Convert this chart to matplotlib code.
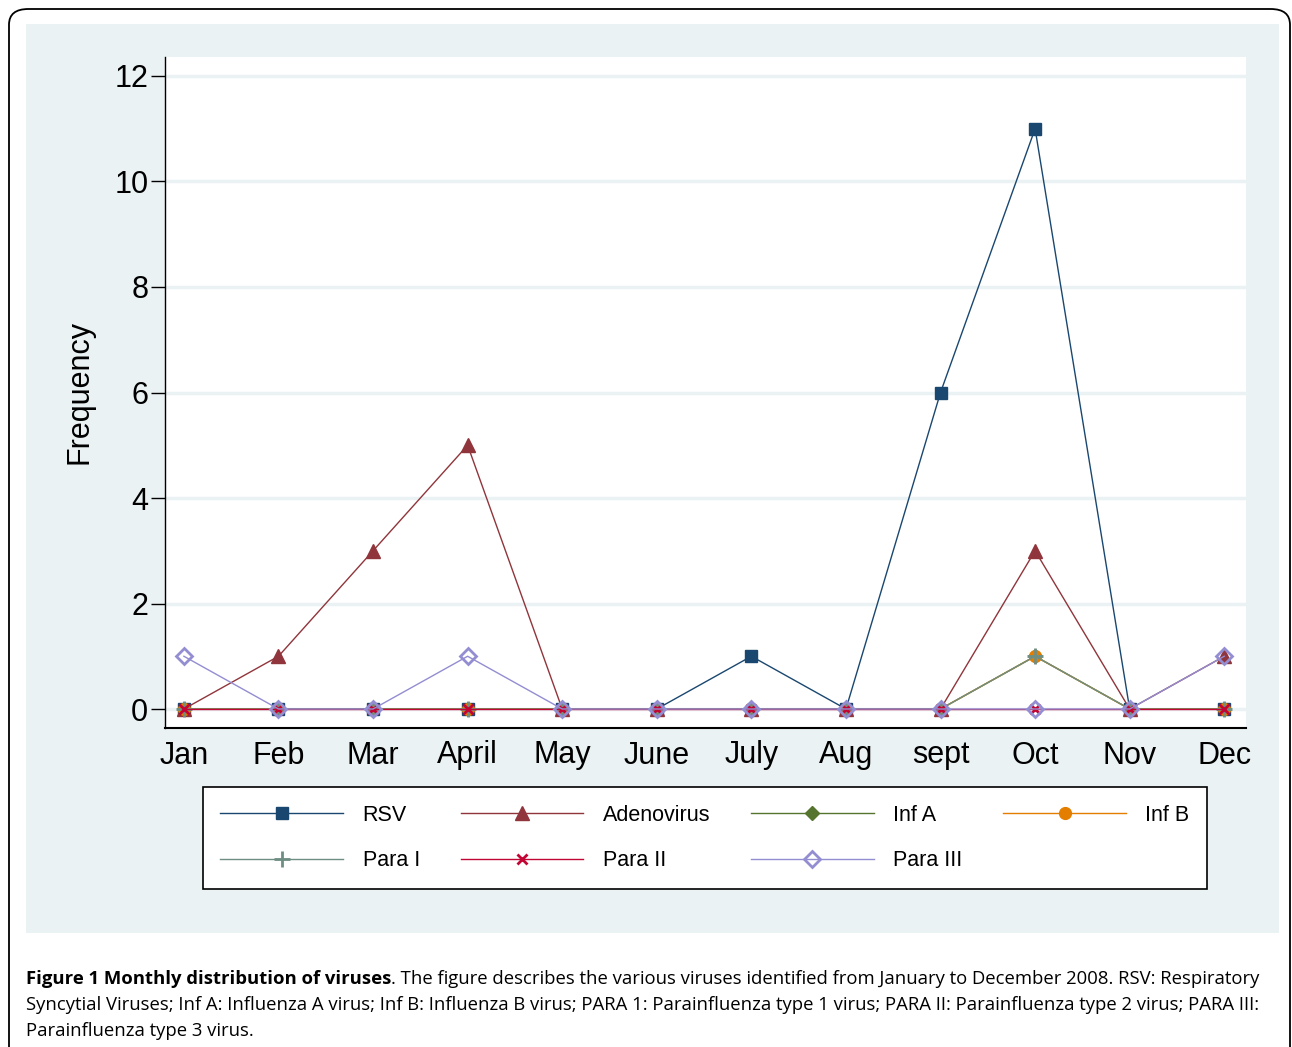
import matplotlib
matplotlib.use("Agg")
from matplotlib import pyplot as plt
from matplotlib.patches import FancyBboxPatch, Rectangle

months = ["Jan", "Feb", "Mar", "April", "May", "June", "July", "Aug", "sept", "Oct", "Nov", "Dec"]
rsv = [0, 0, 0, 0, 0, 0, 1, 0, 6, 11, 0, 0]
adenovirus = [0, 1, 3, 5, 0, 0, 0, 0, 0, 3, 0, 1]
inf_a = [0, 0, 0, 0, 0, 0, 0, 0, 0, 1, 0, 0]
inf_b = [0, 0, 0, 0, 0, 0, 0, 0, 0, 1, 0, 0]
para_1 = [0, 0, 0, 0, 0, 0, 0, 0, 0, 1, 0, 0]
para_2 = [0, 0, 0, 0, 0, 0, 0, 0, 0, 0, 0, 0]
para_3 = [1, 0, 0, 1, 0, 0, 0, 0, 0, 0, 0, 1]
y_ticks = [0, 2, 4, 6, 8, 10, 12]

plt.rcParams["font.family"] = ["Liberation Sans", "DejaVu Sans"]

W, H = 1292, 1047
fig = plt.figure(figsize=(W / 100, H / 100), dpi=100)

# outer rounded frame and stata-like background panel
fig.patches.append(FancyBboxPatch((9 / W, -0.05), (1290 - 9) / W, 1 - 9 / H + 0.05,
                                  boxstyle="round,pad=0,rounding_size=0.015",
                                  transform=fig.transFigure, fill=False,
                                  edgecolor="black", linewidth=1.3, zorder=-2))
fig.patches.append(Rectangle((26 / W, 1 - 933 / H), (1279 - 26) / W, (933 - 24) / H,
                             transform=fig.transFigure, facecolor="#eaf2f3",
                             edgecolor="none", zorder=-1))

ax = fig.add_axes([165 / W, 1 - 728 / H, (1246 - 165) / W, (728 - 57) / H])
ax.set_facecolor("white")
x = list(range(1, 13))

series = [
    ("RSV", rsv, "#1a476f", dict(marker="s", markersize=8.5)),
    ("Adenovirus", adenovirus, "#90353b", dict(marker="^", markersize=10)),
    ("Inf A", inf_a, "#55752f", dict(marker="D", markersize=7.5)),
    ("Inf B", inf_b, "#e37e00", dict(marker="o", markersize=8.5)),
    ("Para I", para_1, "#6e8e84", dict(marker="+", markersize=12, markeredgewidth=2)),
    ("Para II", para_2, "#c10534", dict(marker="x", markersize=7, markeredgewidth=2)),
    ("Para III", para_3, "#938dd2", dict(marker="D", markersize=8, markerfacecolor="none",
                                         markeredgewidth=2)),
]
handles = {}
for name, vals, col, kw in series:
    ln, = ax.plot(x, vals, color=col, linewidth=1, label=name, clip_on=False, **kw)
    handles[name] = ln

ax.set_xlim(0.8, 12.23)
ax.set_ylim(-0.36, 12.36)
ax.set_yticks(y_ticks)
ax.set_xticks(x)
ax.set_xticklabels(months)
ax.grid(axis="y", color="#eaf2f3", linewidth=2.5)
ax.set_axisbelow(True)
ax.tick_params(axis="y", labelsize=22, length=10, width=1, direction="out", pad=2)
ax.tick_params(axis="x", labelsize=22, length=0, pad=9)
for s in ["top", "right"]:
    ax.spines[s].set_visible(False)
ax.spines["left"].set_linewidth(1)
ax.spines["bottom"].set_linewidth(1.5)
ax.set_ylabel("Frequency", fontsize=22, labelpad=14)

order = ["RSV", "Para I", "Adenovirus", "Para II", "Inf A", "Para III", "Inf B"]
leg = fig.legend([handles[n] for n in order], order, ncol=4, loc="center",
                 bbox_to_anchor=(705 / W, 1 - 838 / H), fontsize=15.5, frameon=True,
                 fancybox=False, edgecolor="black", facecolor="white", framealpha=1,
                 handlelength=5.7, handletextpad=0.9,
                 columnspacing=1.9, labelspacing=1.15, borderpad=0.8)
leg.get_frame().set_linewidth(1.2)

# caption, bold lead followed by normal text
renderer = fig.canvas.get_renderer()
cap_kw = dict(fontsize=13.3, family=["Open Sans", "DejaVu Sans"], va="baseline")
t0 = fig.text(26 / W, 1 - 984 / H, "Figure 1 Monthly distribution of viruses",
              fontweight="bold", **cap_kw)
bb = t0.get_window_extent(renderer)
fig.text(bb.x1 / W, 1 - 984 / H,
         ". The figure describes the various viruses identified from January to December 2008. RSV: Respiratory",
         **cap_kw)
fig.text(26 / W, 1 - 1010 / H,
         "Syncytial Viruses; Inf A: Influenza A virus; Inf B: Influenza B virus; PARA 1: Parainfluenza type 1 virus; PARA II: Parainfluenza type 2 virus; PARA III:",
         **cap_kw)
fig.text(26 / W, 1 - 1036 / H, "Parainfluenza type 3 virus.", **cap_kw)

fig.savefig("out.png", dpi=100)
